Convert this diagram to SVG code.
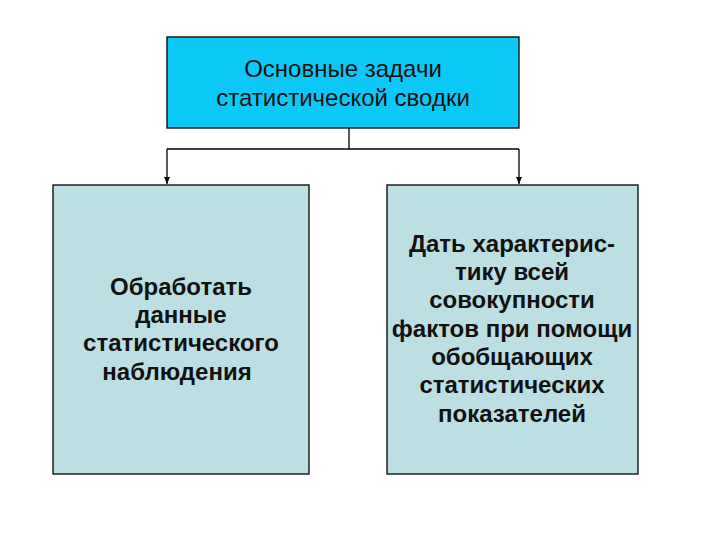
<svg xmlns="http://www.w3.org/2000/svg" width="720" height="540" viewBox="0 0 720 540">
<style>
.box{stroke:#000;stroke-width:1.3}
.top{fill:#0BC8F6}
.sub{fill:#BCDFE4}
.t1{font-family:"Liberation Sans",Arial,sans-serif;font-size:24px;fill:#111;text-anchor:middle}
.t2{font-family:"Liberation Sans",Arial,sans-serif;font-size:24px;font-weight:bold;fill:#111;text-anchor:middle}
.ln{stroke:#000;stroke-width:1.3;fill:none}
</style>
<defs>
<marker id="arr" markerWidth="8" markerHeight="8" refX="7" refY="4" orient="auto" markerUnits="userSpaceOnUse">
<path d="M0,1 L7,4 L0,7 Z" fill="#000"/>
</marker>
</defs>
<rect width="720" height="540" fill="#fff"/>
<g id="connectors">
<path class="ln" d="M349,128 V149"/>
<path class="ln" d="M167,149 H519"/>
<path class="ln" d="M167,149 V184" marker-end="url(#arr)"/>
<path class="ln" d="M519,149 V184" marker-end="url(#arr)"/>
</g>
<g id="root">
<rect class="box top" x="167" y="37" width="352" height="91"/>
<text class="t1" x="343" y="77">Основные задачи</text>
<text class="t1" x="343" y="106">статистической сводки</text>
</g>
<g id="left">
<rect class="box sub" x="53" y="185" width="256" height="289"/>
<text class="t2" x="181" y="295">Обработать</text>
<text class="t2" x="181" y="323">данные</text>
<text class="t2" x="181" y="351">статистического</text>
<text class="t2" x="177" y="380">наблюдения</text>
</g>
<g id="right">
<rect class="box sub" x="387" y="185" width="251" height="289"/>
<text class="t2" x="512" y="252">Дать характерис-</text>
<text class="t2" x="512" y="280">тику всей</text>
<text class="t2" x="512" y="308">совокупности</text>
<text class="t2" x="512" y="337">фактов при помощи</text>
<text class="t2" x="512" y="365">обобщающих</text>
<text class="t2" x="512" y="393">статистических</text>
<text class="t2" x="512" y="422">показателей</text>
</g>
</svg>
